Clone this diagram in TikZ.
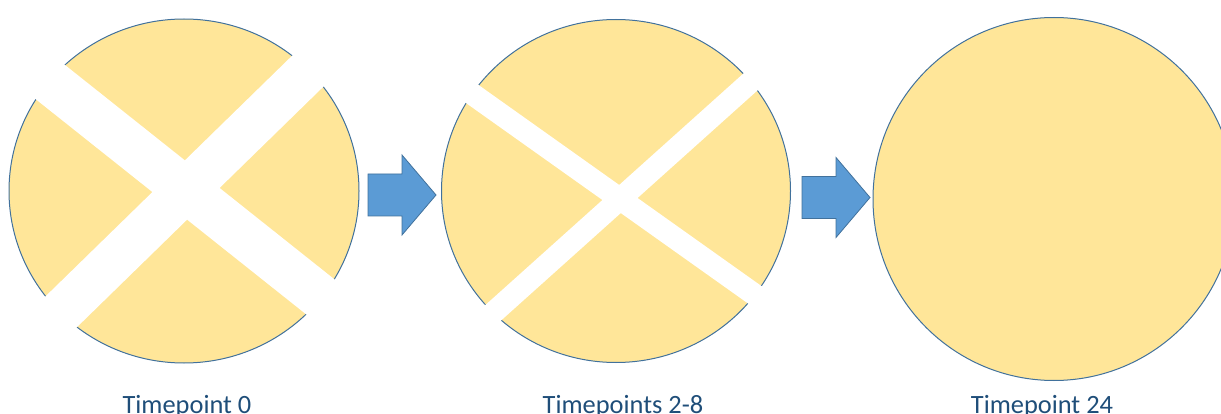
\documentclass[tikz,border=0pt]{standalone}
\usepackage{fontspec}
\setmainfont{Carlito}
\usepackage{tikz}
\usetikzlibrary{shapes.geometric,calc}
\definecolor{cellfill}{HTML}{FFE699}
\definecolor{celledge}{HTML}{41719C}
\definecolor{arrowfill}{HTML}{5B9BD5}
\definecolor{labeltext}{HTML}{1F4E79}

\begin{document}
\begin{tikzpicture}[x=1pt,y=-1pt,
  cell/.style={draw=celledge, fill=cellfill, ellipse, line width=1pt, inner sep=0pt},
  gap/.style={draw=white, line cap=butt},
  blockarrow/.style={draw=celledge, fill=arrowfill, line width=0.8pt, line join=miter},
  tplabel/.style={text=labeltext, anchor=base, inner sep=0pt, font=\fontsize{26.4}{30}\selectfont}]
\useasboundingbox (0,0) rectangle (1221,414);
\clip (0,0) rectangle (1221,414);
\node[cell, minimum width=350, minimum height=344] (t0) at (184,191) {};
\node[cell, minimum width=349, minimum height=343] (t2) at (616,191) {};
\node[cell, minimum width=362, minimum height=363] (t24) at (1054,199) {};
\coordinate (x0) at (186,190);
\coordinate (x2) at (620,199);
\draw[gap, line width=45] ($(x0)+(38.5:-190)$) -- ($(x0)+(38.5:190)$);
\draw[gap, line width=44] ($(x0)+(-44.3:-190)$) -- ($(x0)+(-44.3:190)$);
\draw[gap, line width=22] ($(x2)+(35.4:-190)$) -- ($(x2)+(35.4:190)$);
\draw[gap, line width=22] ($(x2)+(-41.9:-190)$) -- ($(x2)+(-41.9:190)$);
\coordinate (a1) at (368,195);
\coordinate (a2) at (802,197.5);
\foreach \a in {a1,a2}
  \draw[blockarrow] (\a) ++(0,-21) -- ++(34,0) -- ++(0,-19) -- ++(34,40)
    -- ++(-34,40) -- ++(0,-19) -- ++(-34,0) -- cycle;
\node[tplabel] (l0) at (187,413.5) {Timepoint 0};
\node[tplabel] (l2) at (623,413.5) {Timepoints 2-8};
\node[tplabel] (l24) at (1042,413.5) {Timepoint 24};
\end{tikzpicture}
\end{document}
